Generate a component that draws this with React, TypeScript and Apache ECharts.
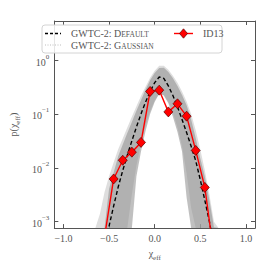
import React, { useEffect, useRef } from "react";
import * as echarts from "echarts";

// x grid for the population curves (chi_eff)
const chiGrid = [-0.70, -0.65, -0.60, -0.55, -0.50, -0.45, -0.40, -0.35, -0.30, -0.25, -0.20, -0.15, -0.10, -0.05, 0.00, 0.05, 0.10, 0.15, 0.20, 0.25, 0.30, 0.35, 0.40, 0.45, 0.50, 0.55, 0.60, 0.65, 0.70, 0.75];

// GWTC-2: Default (median + 90% band)
const defaultMedian = [1.8e-5, 5e-5, 1.3e-4, 3.4e-4, 8.3e-4, 1.95e-3, 4.4e-3, 8.9e-3, 0.0172, 0.0316, 0.057, 0.10, 0.166, 0.26, 0.38, 0.484, 0.457, 0.331, 0.219, 0.135, 0.079, 0.045, 0.0251, 0.0135, 0.006, 0.0025, 1.0e-3, 3.5e-4, 1.26e-4, 4.5e-5];
const defaultUpper = [1e-6, 1e-5, 1e-4, 5e-4, 4.1e-3, 8.1e-3, 0.0163, 0.027, 0.044, 0.071, 0.114, 0.18, 0.28, 0.42, 0.575, 0.71, 0.72, 0.60, 0.457, 0.33, 0.224, 0.145, 0.079, 0.0355, 0.0151, 6.8e-3, 2.5e-3, 7.9e-4, 1.6e-4, 2.5e-5];
const defaultLower = [1e-6, 1e-6, 1e-6, 1e-6, 1e-6, 1e-6, 1e-6, 1e-6, 1e-6, 2.5e-4, 7e-3, 0.02, 0.048, 0.10, 0.166, 0.24, 0.22, 0.158, 0.089, 0.046, 0.02, 2.8e-3, 1e-4, 1e-6, 1e-6, 1e-6, 1e-6, 1e-6, 1e-6, 1e-6];

// GWTC-2: Gaussian (median + 90% band)
const gaussianMedian = [2e-5, 5.5e-5, 1.4e-4, 3.6e-4, 8.8e-4, 2.0e-3, 4.5e-3, 9.0e-3, 0.0175, 0.032, 0.058, 0.10, 0.165, 0.255, 0.37, 0.47, 0.45, 0.33, 0.22, 0.137, 0.08, 0.046, 0.0255, 0.0137, 0.0062, 0.0026, 1.05e-3, 3.7e-4, 1.3e-4, 4.7e-5];
const gaussianUpper = [3.2e-5, 3.2e-4, 1.4e-3, 3.5e-3, 7e-3, 0.0126, 0.022, 0.035, 0.056, 0.089, 0.138, 0.214, 0.32, 0.47, 0.63, 0.78, 0.78, 0.66, 0.51, 0.38, 0.26, 0.17, 0.10, 0.05, 0.022, 8.9e-3, 3.2e-3, 1e-3, 2.5e-4, 4e-5];
const gaussianLower = [1e-6, 1e-6, 1e-6, 1e-6, 1e-6, 1e-6, 1e-6, 1e-6, 3.2e-4, 3.2e-3, 0.011, 0.028, 0.06, 0.112, 0.178, 0.234, 0.224, 0.166, 0.105, 0.056, 0.025, 7.9e-3, 1.8e-3, 2e-4, 1e-6, 1e-6, 1e-6, 1e-6, 1e-6, 1e-6];

// ID13 histogram points
const id13Chi = [-0.55, -0.45, -0.35, -0.25, -0.15, -0.05, 0.05, 0.15, 0.25, 0.35, 0.45, 0.55, 0.65];
const id13P = [5.2e-4, 0.0062, 0.0138, 0.0195, 0.0296, 0.261, 0.276, 0.109, 0.154, 0.0908, 0.021, 0.00432, 2.4e-4];

const xTicks = [-1.0, -0.5, 0.0, 0.5, 1.0];
const yTicks = [0.001, 0.01, 0.1, 1];

const X_MIN = -1.1;
const X_MAX = 1.1;
const Y_MIN = 7.6e-4;
const Y_MAX = 5.3;

const FONT = "'Liberation Serif', 'DejaVu Serif', serif";
const TXT = "#555";
const AX = "#555";

function band(upper: number[], lower: number[], fill: string, z: number) {
  return {
    type: "custom",
    coordinateSystem: "cartesian2d",
    data: [[0, 1]],
    silent: true,
    z,
    renderItem: (_p: any, api: any) => {
      const cy = (v: number) => Math.min(Math.max(v, Y_MIN), Y_MAX);
      const pts: number[][] = [];
      chiGrid.forEach((x, i) => pts.push(api.coord([x, cy(upper[i])])));
      for (let i = chiGrid.length - 1; i >= 0; i--) pts.push(api.coord([chiGrid[i], cy(lower[i])]));
      return { type: "polygon", shape: { points: pts }, style: { fill }, silent: true };
    },
  };
}

export default function App() {
  const ref = useRef<HTMLDivElement>(null);
  useEffect(() => {
    if (!ref.current) return;
    const chart = echarts.init(ref.current, undefined, { renderer: "svg" });
    const xLab = (v: number) => (v < 0 ? "\u2212" : "") + Math.abs(v).toFixed(1);
    const yLab = (v: number) => {
      const e = Math.round(Math.log10(v));
      return `{b|10}{s|${e < 0 ? "\u2212" + -e : e}}`;
    };
    const yRich = {
      b: { fontSize: 10, fontFamily: FONT, color: TXT, lineHeight: 14, verticalAlign: "bottom" },
      s: { fontSize: 7, fontFamily: FONT, color: TXT, lineHeight: 8, verticalAlign: "top" },
    };
    const nameRich = {
      a: { fontSize: 10, fontFamily: FONT, color: TXT, lineHeight: 13, verticalAlign: "top" },
      s: { fontSize: 7, fontFamily: FONT, color: TXT, lineHeight: 9, verticalAlign: "bottom" },
    };
    const baseAxisLine = { onZero: false, lineStyle: { color: AX, width: 1 } };
    chart.setOption({
      animation: false,
      backgroundColor: "#fff",
      grid: { left: 37, right: 11, top: 21, bottom: 32 },
      xAxis: [
        {
          type: "value", min: X_MIN, max: X_MAX, position: "bottom",
          axisLine: baseAxisLine,
          axisTick: { inside: true, length: 4, customValues: xTicks, lineStyle: { color: AX } },
          axisLabel: { customValues: xTicks, formatter: xLab, color: TXT, fontFamily: FONT, fontSize: 10, margin: 5 },
          splitLine: { show: false },
          name: "{a|\u03c7}{s|eff}", nameLocation: "middle", nameGap: 11,
          nameTextStyle: { rich: nameRich },
        },
        {
          type: "value", min: X_MIN, max: X_MAX, position: "top",
          axisLine: baseAxisLine,
          axisTick: { inside: true, length: 4, customValues: xTicks, lineStyle: { color: AX } },
          axisLabel: { show: false }, splitLine: { show: false },
        },
      ],
      yAxis: [
        {
          type: "log", min: Y_MIN, max: Y_MAX, position: "left",
          axisLine: { show: true, ...baseAxisLine },
          axisTick: { show: true, inside: true, length: 4, customValues: yTicks, lineStyle: { color: AX } },
          axisLabel: { customValues: yTicks, formatter: yLab, rich: yRich, margin: 5 },
          splitLine: { show: false },
          name: "{a|p(\u03c7}{s|eff}{a|)}", nameLocation: "middle", nameGap: 21, nameRotate: 90,
          nameTextStyle: { rich: nameRich },
        },
        {
          type: "log", min: Y_MIN, max: Y_MAX, position: "right",
          axisLine: { show: true, ...baseAxisLine },
          axisTick: { show: true, inside: true, length: 4, customValues: yTicks, lineStyle: { color: AX } },
          axisLabel: { show: false }, splitLine: { show: false },
        },
      ],
      series: [
        band(gaussianUpper, gaussianLower, "rgba(200,200,200,0.6)", 1),
        band(defaultUpper, defaultLower, "rgba(140,140,140,0.55)", 2),
        {
          type: "line", name: "GWTC-2: Gaussian", z: 3, clip: true, symbol: "none",
          data: chiGrid.map((x, i) => [x, gaussianMedian[i]]),
          lineStyle: { color: "#c4c4c4", width: 1, type: [1, 1.5] },
        },
        {
          type: "line", name: "GWTC-2: Default", z: 4, clip: true, symbol: "none",
          data: chiGrid.map((x, i) => [x, defaultMedian[i]]),
          lineStyle: { color: "#000", width: 1.4, type: [4, 2.5] },
        },
        {
          type: "line", name: "ID13", z: 5, clip: true,
          symbol: "diamond", symbolSize: [9, 10],
          data: id13Chi.map((x, i) => ({
            value: [x, id13P[i]],
            symbol: id13P[i] < Y_MIN ? "none" : "diamond",
          })),
          lineStyle: { color: "#ff0000", width: 1.4 },
          itemStyle: { color: "#ff0000", borderColor: "#5a0000", borderWidth: 0.7 },
        },
      ],
      graphic: [
        { type: "rect", z: 10, shape: { x: 42, y: 25, width: 180, height: 28, r: 3 }, style: { fill: "rgba(255,255,255,0.85)", stroke: "#d4d4d4", lineWidth: 1 } },
        { type: "line", z: 11, shape: { x1: 45, y1: 33.5, x2: 61, y2: 33.5 }, style: { stroke: "#000", lineWidth: 1.4, lineDash: [3, 2] } },
        { type: "text", z: 11, x: 71, y: 33.5, style: { text: "{n|GWTC-2: D}{s|EFAULT}", verticalAlign: "middle", rich: { n: { fontSize: 10, fontFamily: FONT, fill: TXT }, s: { fontSize: 7.5, fontFamily: FONT, fill: TXT, verticalAlign: "bottom" } } } },
        { type: "line", z: 11, shape: { x1: 45, y1: 45, x2: 61, y2: 45 }, style: { stroke: "#bdbdbd", lineWidth: 1, lineDash: [1, 1.5] } },
        { type: "text", z: 11, x: 71, y: 45, style: { text: "{n|GWTC-2: G}{s|AUSSIAN}", verticalAlign: "middle", rich: { n: { fontSize: 10, fontFamily: FONT, fill: TXT }, s: { fontSize: 7.5, fontFamily: FONT, fill: TXT, verticalAlign: "bottom" } } } },
        { type: "line", z: 11, shape: { x1: 174, y1: 33.5, x2: 193, y2: 33.5 }, style: { stroke: "#ff0000", lineWidth: 1.4 } },
        { type: "polygon", z: 12, shape: { points: [[183.5, 28.8], [187.5, 33.5], [183.5, 38.2], [179.5, 33.5]] }, style: { fill: "#ff0000", stroke: "#5a0000", lineWidth: 0.7 } },
        { type: "text", z: 11, x: 203, y: 33.5, style: { text: "ID13", verticalAlign: "middle", fontSize: 10, fontFamily: FONT, fill: TXT } },
      ],
    });
    return () => chart.dispose();
  }, []);
  return <div ref={ref} style={{ position: "fixed", left: 0, top: 0, width: 266, height: 266 }} />;
}
